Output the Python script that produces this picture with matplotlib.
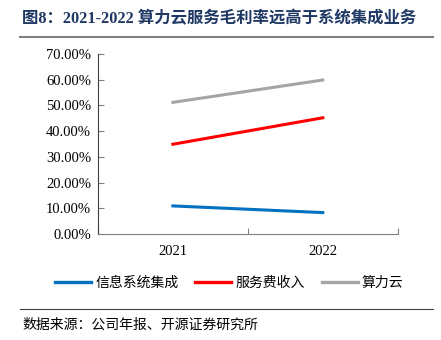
import matplotlib.pyplot as plt
from matplotlib.lines import Line2D
from matplotlib.ticker import FuncFormatter

plt.rcParams['font.family'] = ['Liberation Serif', 'Noto Sans CJK SC']

# data
years = ["2021", "2022"]
xinxi = [10.9, 8.3]        # 信息系统集成
fuwu = [34.9, 45.2]        # 服务费收入
suanli = [51.2, 59.9]      # 算力云
yticks = [0, 10, 20, 30, 40, 50, 60, 70]

COLOR_BLUE = "#0070C0"
COLOR_RED = "#FF0000"
COLOR_GRAY = "#A5A5A5"
COLOR_TITLE = "#1F3864"
CJK = ['Noto Sans CJK SC', 'DejaVu Sans']

fig = plt.figure(figsize=(4.41, 3.40), dpi=100)
ax = fig.add_axes([0.222, 0.312, 0.68, 0.529])

xs = [0.5, 1.5]
ax.plot(xs, xinxi, color=COLOR_BLUE, lw=2.2, label="信息系统集成")
ax.plot(xs, fuwu, color=COLOR_RED, lw=2.2, label="服务费收入")
ax.plot(xs, suanli, color=COLOR_GRAY, lw=2.2, label="算力云")

ax.set_xlim(0, 2)
ax.set_ylim(0, 70)
ax.set_yticks(yticks)
ax.yaxis.set_major_formatter(FuncFormatter(lambda v, p: f"{v:.2f}%"))
ax.set_xticks([0, 1, 2])
ax.set_xticklabels([])
ax.set_xticks(xs, minor=True)
ax.set_xticklabels(years, minor=True)
ax.tick_params(axis='x', which='major', direction='in', length=4, color="#808080")
ax.tick_params(axis='x', which='minor', length=0, pad=8, labelsize=10.5)
ax.tick_params(axis='y', direction='in', length=4, color="#808080", labelsize=10.5, pad=5)

ax.spines['top'].set_visible(False)
ax.spines['right'].set_visible(False)
ax.spines['left'].set_color("#404040")
ax.spines['bottom'].set_color("#808080")

# legend
leg = fig.legend(loc='center', bbox_to_anchor=(0.52, 0.168), ncol=3, frameon=False,
                 handlelength=2.6, handletextpad=0.3, columnspacing=1.2,
                 prop={'family': CJK, 'size': 10})
for h in leg.get_lines():
    h.set_linewidth(2.4)

# title and source
fig.text(0.05, 0.945, "图8：2021-2022 算力云服务毛利率远高于系统集成业务",
         fontsize=11.8, fontweight='bold', color=COLOR_TITLE, va='center')
fig.add_artist(Line2D([0.045, 0.982], [0.891, 0.891], color="#808080", lw=1.5))
fig.add_artist(Line2D([0.045, 0.982], [0.091, 0.091], color="#404040", lw=0.8))
fig.text(0.05, 0.045, "数据来源：公司年报、开源证券研究所", fontsize=10,
         family=CJK, va='center')

fig.savefig("out.png", dpi=100)
